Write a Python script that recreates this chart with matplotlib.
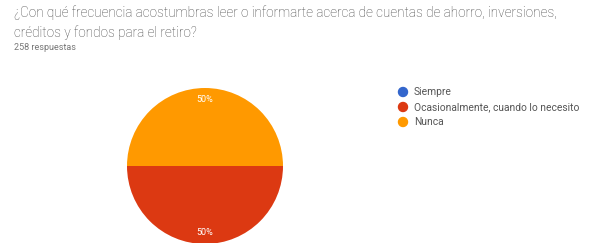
import matplotlib
matplotlib.use("Agg")
import matplotlib.pyplot as plt

title_lines = ["¿Con qué frecuencia acostumbras leer o informarte acerca de cuentas de ahorro, inversiones,",
               "créditos y fondos para el retiro?"]
subtitle = "258 respuestas"
categories = ["Siempre", "Ocasionalmente, cuando lo necesito", "Nunca"]
values = [0, 50, 50]
colors = ["#3366cc", "#dc3912", "#ff9900"]

W, H = 611, 243
fig = plt.figure(figsize=(W / 100, H / 100), dpi=100)
fig.patch.set_facecolor("white")

fig.text(14 / W, 1 - 13 / H, title_lines[0], fontsize=9.75, family="Roboto", fontweight="light",
         color="#444444", va="center", ha="left")
fig.text(14 / W, 1 - 33 / H, title_lines[1], fontsize=9.75, family="Roboto", fontweight="light",
         color="#444444", va="center", ha="left")
fig.text(14 / W, 1 - 48 / H, subtitle, fontsize=6.5, family="Roboto", color="#777777", va="center", ha="left")

cx, cy, r = 205, 166, 78
ax = fig.add_axes([(cx - r) / W, (H - cy - r) / H, 2 * r / W, 2 * r / H])
order = [1, 2, 0]
vals = [values[i] for i in order]
cols = [colors[i] for i in order]
wedges, texts, autotexts = ax.pie(
    vals, colors=cols, startangle=0, counterclock=False,
    autopct=lambda p: f"{p:.0f}%" if p > 0 else "", pctdistance=0.85,
    wedgeprops=dict(linewidth=0),
    textprops=dict(color="white", fontsize=6.5, family="Roboto"))
ax.set_aspect("equal")
ax.set_xlim(-1, 1)
ax.set_ylim(-1, 1)

ys = [92, 107, 122]
for cat, col, y in zip(categories, colors, ys):
    fig.patches.append(matplotlib.patches.Ellipse((403 / W, 1 - y / H), 9 / W, 9 / H,
                                                  transform=fig.transFigure, color=col, figure=fig))
    fig.text(414 / W, 1 - y / H, cat, fontsize=7.4, family="Roboto", color="#555555", va="center", ha="left")

fig.savefig("out.png", dpi=100)
